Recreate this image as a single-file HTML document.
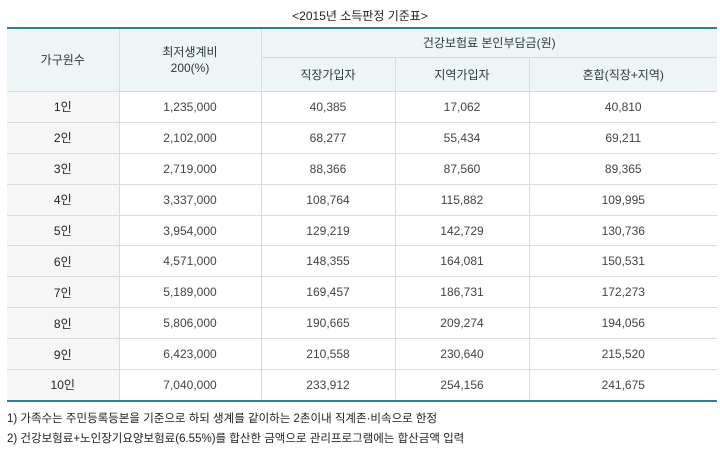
<!DOCTYPE html>
<html><head><meta charset="utf-8">
<style>
body{margin:0;width:720px;height:451px;background:#fff;font-family:"Liberation Sans","Noto Sans CJK KR",sans-serif;color:#333;overflow:hidden;position:relative}
.title{position:absolute;top:7px;left:0;width:720px;text-align:center;font-size:12px;color:#222}
table{position:absolute;left:7px;top:27px;width:710px;border-collapse:collapse;font-size:12px;table-layout:fixed;border-top:2px solid #2f7f8c;border-bottom:2px solid #2f7f8c}
th,td{border:1px solid #d4dde0;text-align:center;padding:0}
tr>*:first-child{border-left:none}
tr>*:last-child{border-right:none}
th{background:#eef5f7;font-weight:normal;color:#2a3a40;line-height:16px}
.h1 th{height:28px}
.h2 th{height:33px}
td{height:29.9px;color:#444}
td.k{background:#f6f6f6;color:#222}
.note{position:absolute;left:7px;font-size:11.5px;color:#222}
</style></head><body>
<div class="title">&lt;2015년 소득판정 기준표&gt;</div>
<table>
<colgroup><col style="width:112px"><col style="width:142px"><col style="width:134px"><col style="width:134px"><col style="width:188px"></colgroup>
<tr class="h1"><th rowspan="2">가구원수</th><th rowspan="2">최저생계비<br>200(%)</th><th colspan="3">건강보험료 본인부담금(원)</th></tr>
<tr class="h2"><th>직장가입자</th><th>지역가입자</th><th>혼합(직장+지역)</th></tr>
<tbody id="tb"></tbody>
</table>
<div class="note" style="top:410px">1) 가족수는 주민등록등본을 기준으로 하되 생계를 같이하는 2촌이내 직계존·비속으로 한정</div>
<div class="note" style="top:430px">2) 건강보험료+노인장기요양보험료(6.55%)를 합산한 금액으로 관리프로그램에는 합산금액 입력</div>
<script>
const households=["1인","2인","3인","4인","5인","6인","7인","8인","9인","10인"];
const minLiving=["1,235,000","2,102,000","2,719,000","3,337,000","3,954,000","4,571,000","5,189,000","5,806,000","6,423,000","7,040,000"];
const employee=["40,385","68,277","88,366","108,764","129,219","148,355","169,457","190,665","210,558","233,912"];
const regional=["17,062","55,434","87,560","115,882","142,729","164,081","186,731","209,274","230,640","254,156"];
const mixed=["40,810","69,211","89,365","109,995","130,736","150,531","172,273","194,056","215,520","241,675"];
const tb=document.getElementById('tb');
households.forEach((h,i)=>{
  const tr=document.createElement('tr');
  
  
  [h,minLiving[i],employee[i],regional[i],mixed[i]].forEach((v,j)=>{
    const td=document.createElement('td');
    
    
    if(j===0)td.className='k';
    td.textContent=v;tr.appendChild(td);
  });
  tb.appendChild(tr);
});
</script>
</body></html>
